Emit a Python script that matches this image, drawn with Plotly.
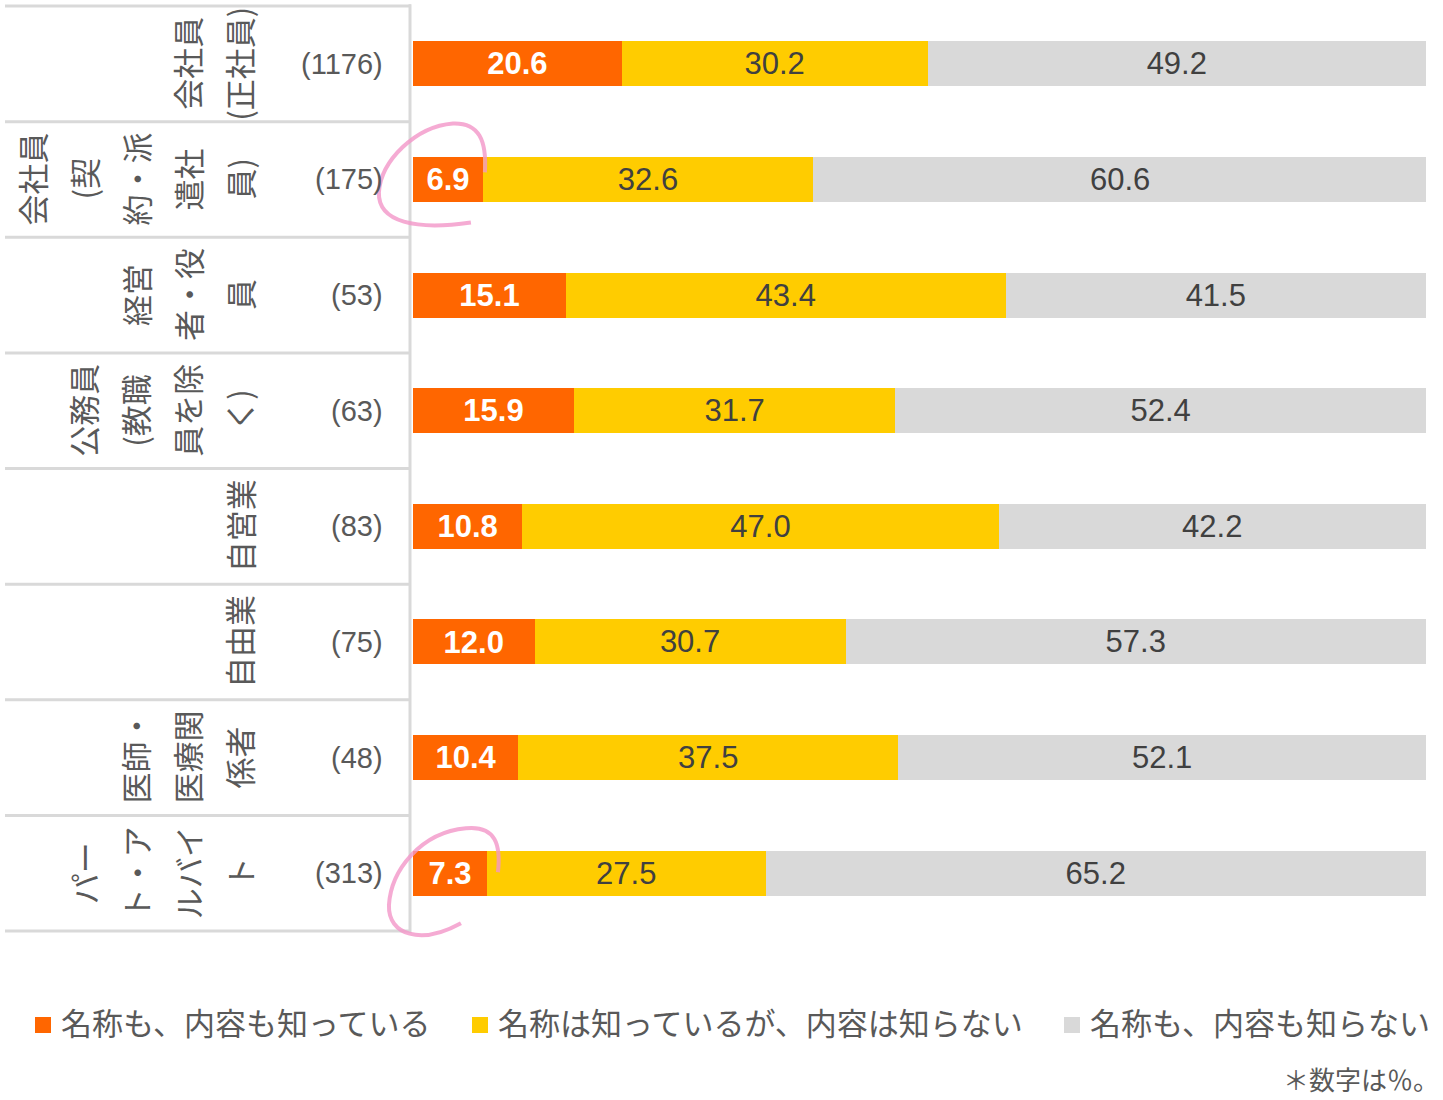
import plotly.graph_objects as go

# 職業別の認知度 (%)
label_lines = [
    ["会社員", "(正社員)"],
    ["会社員", "(契", "約・派", "遣社", "員)"],
    ["経営", "者・役", "員"],
    ["公務員", "(教職", "員を除", "く)"],
    ["自営業"],
    ["自由業"],
    ["医師・", "医療関", "係者"],
    ["パー", "ト・ア", "ルバイ", "ト"],
]
counts = ["(1176)", "(175)", "(53)", "(63)", "(83)", "(75)", "(48)", "(313)"]
categories = ["".join(l) for l in label_lines]

know_both = [20.6, 6.9, 15.1, 15.9, 10.8, 12.0, 10.4, 7.3]
name_only = [30.2, 32.6, 43.4, 31.7, 47.0, 30.7, 37.5, 27.5]
neither = [49.2, 60.6, 41.5, 52.4, 42.2, 57.3, 52.1, 65.2]

series_names = ["名称も、内容も知っている", "名称は知っているが、内容は知らない", "名称も、内容も知らない"]
note = "＊数字は％。"

colors = ["#FF6600", "#FFCC00", "#D9D9D9"]
W, H = 1443, 1100
L, R, T, B = 413, 17, 6, 169
PW, PH = W - L - R, H - T - B

FONT = "Liberation Sans, Noto Sans CJK JP, sans-serif"
JP = "Noto Sans CJK JP"
GREY = "#595959"


def px(x):
    return (x - L) / PW


def py(y):
    return (H - B - y) / PH


fig = go.Figure()
for name, vals, col in zip(series_names, [know_both, name_only, neither], colors):
    first = col == colors[0]
    fig.add_trace(go.Bar(
        y=categories, x=vals, name=name, orientation="h",
        marker=dict(color=col, line=dict(width=0)),
        width=0.39,
        texttemplate="<b>%{x:.1f}</b>" if first else "%{x:.1f}",
        textposition="inside", insidetextanchor="middle",
        textfont=dict(family=FONT, size=32 if first else 31, color="white" if first else "#404040"),
        hoverinfo="skip", showlegend=False,
    ))

n = len(categories)
shapes = []
# table grid on the left
for k in range(n + 1):
    yk = 1 - k / n
    shapes.append(dict(type="line", xref="paper", yref="paper", x0=px(5), x1=px(411),
                       y0=yk, y1=yk, line=dict(color="#D9D9D9", width=3)))
shapes.append(dict(type="line", xref="paper", yref="paper", x0=px(410), x1=px(410),
                   y0=-0.002, y1=1.002, line=dict(color="#D9D9D9", width=3)))

annotations = []
for i, (lines, c) in enumerate(zip(label_lines, counts)):
    m = len(lines)
    for j, ln in enumerate(lines):
        annotations.append(dict(
            text=ln, x=px(239 - 52 * (m - 1 - j)), xref="paper", y=categories[i], yref="y",
            xanchor="center", yanchor="middle", textangle=-90, showarrow=False,
            font=dict(family=JP, size=31, color=GREY)))
    annotations.append(dict(
        text=c, x=px(385), xref="paper", y=categories[i], yref="y",
        xanchor="right", yanchor="middle", showarrow=False,
        font=dict(family=FONT, size=29, color=GREY)))

# legend drawn below the chart
leg_fs, leg_y, x0 = 31, 1025, 35
for name, col in zip(series_names, colors):
    shapes.append(dict(type="rect", xref="paper", yref="paper",
                       x0=px(x0), x1=px(x0 + 16), y0=py(leg_y + 8), y1=py(leg_y - 8),
                       fillcolor=col, line=dict(width=0)))
    annotations.append(dict(text=name, x=px(x0 + 24), xref="paper", y=py(leg_y - 3), yref="paper",
                            xanchor="left", yanchor="middle", showarrow=False,
                            font=dict(family=JP, size=leg_fs, color=GREY)))
    x0 = x0 + 27 + len(name) * leg_fs + 38

annotations.append(dict(text=note, x=px(1441), xref="paper", y=py(1078), yref="paper",
                        xanchor="right", yanchor="middle", showarrow=False,
                        font=dict(family=JP, size=26, color=GREY)))

# pink hand-drawn loops around the two lowest values
loops = [
    [(2, -7), (4, -39), (-4, -57), (-30, -56), (-67, -53), (-102, -19), (-104, 13),
     (-105, 43), (-67, 51), (-12, 43)],
    [(11, -1), (14, -28), (9, -48), (-21, -45), (-66, -41), (-96, -3), (-98, 32),
     (-99, 62), (-66, 72), (-26, 50)],
]
lowest = sorted(range(n), key=lambda i: know_both[i])[:2]
for row, pts in zip(sorted(lowest), loops):
    xr = L + know_both[row] / 100 * PW
    yc = T + (row + 0.5) * PH / n
    p = [(px(xr + dx), py(yc + dy)) for dx, dy in pts]
    path = "M{},{}".format(*p[0])
    for s in range(1, len(p), 3):
        path += " C{},{} {},{} {},{}".format(*p[s], *p[s + 1], *p[s + 2])
    shapes.append(dict(type="path", xref="paper", yref="paper", path=path,
                       line=dict(color="rgba(242,150,200,0.8)", width=4)))

fig.update_layout(
    width=W, height=H, barmode="stack",
    margin=dict(l=L, r=R, t=T, b=B),
    paper_bgcolor="white", plot_bgcolor="white",
    xaxis=dict(range=[0, 100], visible=False, fixedrange=True),
    yaxis=dict(categoryorder="array", categoryarray=categories, range=[n - 0.5, -0.5],
               visible=False, fixedrange=True),
    showlegend=False,
    uniformtext=dict(minsize=20, mode="show"),
    shapes=shapes, annotations=annotations,
)

fig.write_html("out.html", config={"displayModeBar": False},
               post_script="document.body.style.margin='0px';")
